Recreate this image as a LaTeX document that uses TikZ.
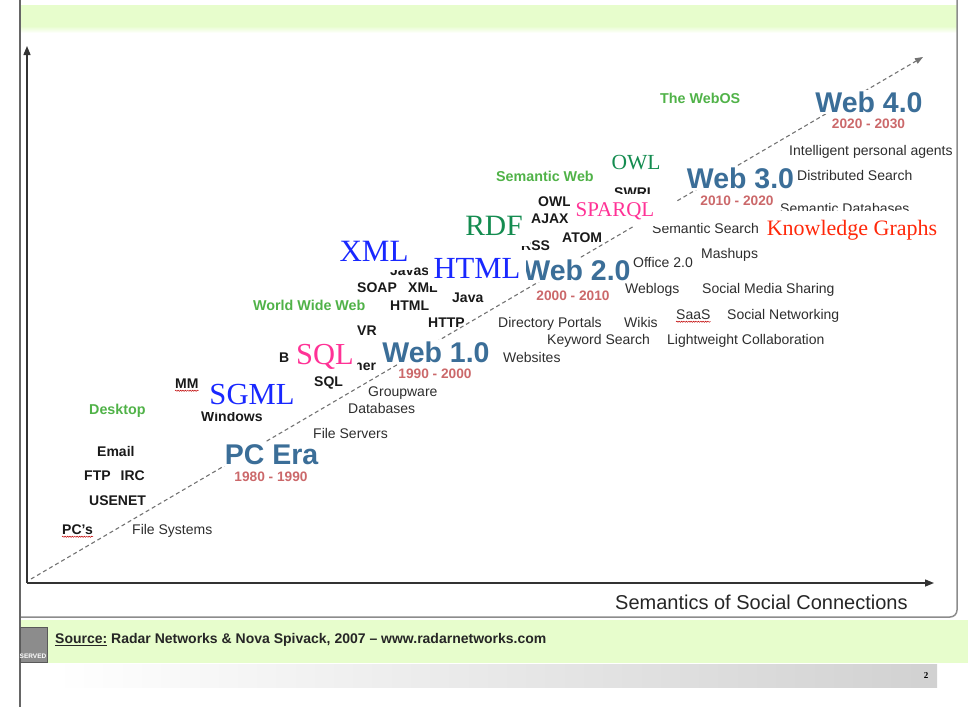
\documentclass[tikz,border=0pt]{standalone}
\usepackage{fontspec}
\setmainfont{Liberation Sans}
\newfontfamily\timesfont{Liberation Serif}
\usetikzlibrary{arrows.meta,decorations.pathmorphing}

\definecolor{bandgreen}{RGB}{231,253,204}
\definecolor{erablue}{RGB}{59,110,152}
\definecolor{yearred}{RGB}{203,104,106}
\definecolor{stagegreen}{RGB}{80,178,72}
\definecolor{appgray}{RGB}{45,45,45}
\definecolor{xblue}{RGB}{25,40,255}
\definecolor{xpink}{RGB}{255,50,150}
\definecolor{xgreen}{RGB}{20,140,80}
\definecolor{xred}{RGB}{255,40,10}

\tikzset{
  era/.style={font=\bfseries\fontsize{28.5}{30}\selectfont, text=erablue, fill=white, inner sep=2pt, text height=20.4pt, text depth=0pt},
  years/.style={font=\bfseries\fontsize{13.7}{15}\selectfont, text=yearred, inner sep=0pt, text height=9.8pt, text depth=0pt},
  stage/.style={font=\bfseries\fontsize{14.3}{16}\selectfont, text=stagegreen, anchor=west, inner sep=0pt, text height=10.2pt, text depth=0pt},
  tech/.style={font=\bfseries\fontsize{14}{16}\selectfont, text=black!90, anchor=west, inner sep=0pt, text height=10pt, text depth=0pt},
  app/.style={font=\fontsize{14}{16}\selectfont, text=appgray, anchor=west, inner sep=0pt, text height=10pt, text depth=0pt},
  cover/.style={inner sep=0pt, text depth=0pt},
  squiggle/.style={draw=red!75!black, line width=0.5pt, decorate, decoration={snake, amplitude=0.6pt, segment length=2.4pt}},
  axis/.style={draw=black!80, line width=1.4pt, -{Triangle[length=9pt,width=7pt]}},
}

\begin{document}
\begin{tikzpicture}[x=1pt,y=-1pt]

    \newcommand{\era}[7]{
        \node[era] (#1) at (#2,#3) {#4};
        \node[years] (#1yrs) at (#5,#6) {#7};
    }
    \newcommand{\cover}[7]{
        \fill[white] #2 rectangle #3;
        \pgfmathsetmacro\capht{0.662*#5}
        \node[cover, text=#6, text height=\capht pt, font=\timesfont\fontsize{#5}{#5}\selectfont] (#1) at #4 {#7};
    }

    \useasboundingbox (0,0) rectangle (968,707);

    % slide frame
    \fill[bandgreen] (20,5) rectangle (957,26);
    \shade[top color=bandgreen, bottom color=white] (20,26) rectangle (957,33);
    \fill[bandgreen] (20,620) rectangle (968,663);
    \shade[left color=white, right color=black!18] (55,664) rectangle (937,687);
    \draw[black!45, line width=1.5pt, rounded corners=7pt] (20,617) -- (957,617) -- (957,0);
    \draw[black!60, line width=1.2pt] (20,0) -- (20,707);

    \node[fill=black!45, draw=black!65, minimum width=27pt, minimum height=35pt, inner sep=0pt] (logo) at (33.5,644.5) {};
    \node[font=\bfseries\fontsize{6.5}{7}\selectfont, text=white, inner sep=0pt] (served) at (33,656) {SERVED};
    \node[anchor=west, inner sep=0pt, font=\bfseries\fontsize{14}{16}\selectfont, text=black!85] (source) at (55,640)
        {\underline{Source:} Radar Networks \& Nova Spivack, 2007 – www.radarnetworks.com};
    \node[font=\timesfont\bfseries\fontsize{9}{9}\selectfont, inner sep=0pt] (page) at (926,676) {2};

    % axes and trend
    \coordinate (origin) at (27,583);
    \coordinate (ytip) at (27,46);
    \coordinate (xtip) at (934,583);
    \coordinate (trendstart) at (31,579);
    \coordinate (trendend) at (923,57);
    \draw[axis] (origin) -- (ytip);
    \draw[axis] (origin) -- (xtip);
    \draw[black!55, line width=1.1pt, dash pattern=on 4pt off 3pt, -{Triangle[length=8pt,width=6pt]}] (trendstart) -- (trendend);
    \node[anchor=west, inner sep=0pt, font=\fontsize{20}{22}\selectfont, text=black!85, text height=14.3pt, text depth=0pt] (xlabel) at (615,602) {Semantics of Social Connections};

    \era{pcera}{271.5}{454}{PC Era}{271}{477}{1980 - 1990}
    \era{webone}{436}{352}{Web 1.0}{435}{374}{1990 - 2000}
    \era{webtwo}{577}{270}{Web 2.0}{573}{296}{2000 - 2010}
    \era{webthree}{740.5}{178}{Web 3.0}{737}{201}{2010 - 2020}
    \era{webfour}{869}{102}{Web 4.0}{868.5}{124}{2020 - 2030}

    \node[stage] (desktop) at (89,409) {Desktop};
    \node[stage] (www) at (253,305) {World Wide Web};
    \node[stage] (semweb) at (496,176) {Semantic Web};
    \node[stage] (webos) at (660,98) {The WebOS};

    \node[tech] (email) at (97,451) {Email};
    \node[tech] (ftpirc) at (84,475) {FTP\hspace{10pt}IRC};
    \node[tech] (usenet) at (89,500) {USENET};
    \node[tech] (pcs) at (62,529) {PC’s};
    \node[tech] (mm) at (175,383) {MM};
    \node[tech] (windows) at (201,416) {Windows};
    \node[tech] (bfrag) at (279,357) {B};
    \node[tech] (nerfrag) at (354,365) {ner};
    \node[tech] (sqlword) at (314,381) {SQL};
    \node[tech] (vr) at (357,330) {VR};
    \node[tech] (soap) at (357,287) {SOAP};
    \node[tech] (xmlword) at (408,287) {XML};
    \node[tech] (htmlword) at (390,305) {HTML};
    \node[tech] (java) at (452,297) {Java};
    \node[tech] (http) at (428,322) {HTTP};
    \node[tech] (javas) at (390,270) {Javas};
    \node[tech] (owlword) at (538,201) {OWL};
    \node[tech] (ajax) at (531,218) {AJAX};
    \node[tech] (rss) at (521,245) {RSS};
    \node[tech] (atom) at (562,237) {ATOM};
    \node[tech] (swrl) at (614,192) {SWRL};

    \node[app] (filesys) at (132,529) {File Systems};
    \node[app] (fileserv) at (313,433) {File Servers};
    \node[app] (databases) at (348,408) {Databases};
    \node[app] (groupware) at (368,391) {Groupware};
    \node[app] (websites) at (503,357) {Websites};
    \node[app] (portals) at (498,322) {Directory Portals};
    \node[app] (wikis) at (624,322) {Wikis};
    \node[app] (keyword) at (547,339) {Keyword Search};
    \node[app] (weblogs) at (625,288) {Weblogs};
    \node[app] (office) at (633,262) {Office 2.0};
    \node[app] (mashups) at (701,253) {Mashups};
    \node[app] (mediashare) at (702,288) {Social Media Sharing};
    \node[app] (saas) at (676,314) {SaaS};
    \node[app] (socialnet) at (727,314) {Social Networking};
    \node[app] (collab) at (667,339) {Lightweight Collaboration};
    \node[app] (semsearch) at (652,228) {Semantic Search};
    \node[app] (semdb) at (780,208) {Semantic Databases};
    \node[app] (distsearch) at (797,175) {Distributed Search};
    \node[app] (agents) at (789,150) {Intelligent personal agents};

    \draw[squiggle] ([yshift=-2.5pt]pcs.south west) -- ([yshift=-2.5pt]pcs.south east);
    \draw[squiggle] ([yshift=-2.5pt]mm.south west) -- ([yshift=-2.5pt]mm.south east);
    \draw[squiggle] ([yshift=-2.5pt]saas.south west) -- ([yshift=-2.5pt]saas.south east);

    % pasted labels on top
    \cover{sgml}{(203,375)}{(300,412)}{(252,394)}{30.6}{xblue}{SGML}
    \cover{sql}{(292,336)}{(357,372)}{(325,354)}{30.5}{xpink}{SQL}
    \cover{xml}{(334,232)}{(414,270)}{(374,251)}{31}{xblue}{XML}
    \cover{html}{(428,250)}{(526,286)}{(477,268)}{30.7}{xblue}{HTML}
    \cover{rdf}{(458,206)}{(530,246)}{(494,226)}{29.5}{xgreen}{RDF}
    \cover{sparql}{(570,194)}{(676,226)}{(615,210)}{21}{xpink}{SPARQL}
    \cover{owl}{(605,145)}{(667,179)}{(636,162)}{21.5}{xgreen}{OWL}
    \cover{kg}{(762,211)}{(942,246)}{(852,228)}{22}{xred}{Knowledge Graphs}

\end{tikzpicture}
\end{document}
